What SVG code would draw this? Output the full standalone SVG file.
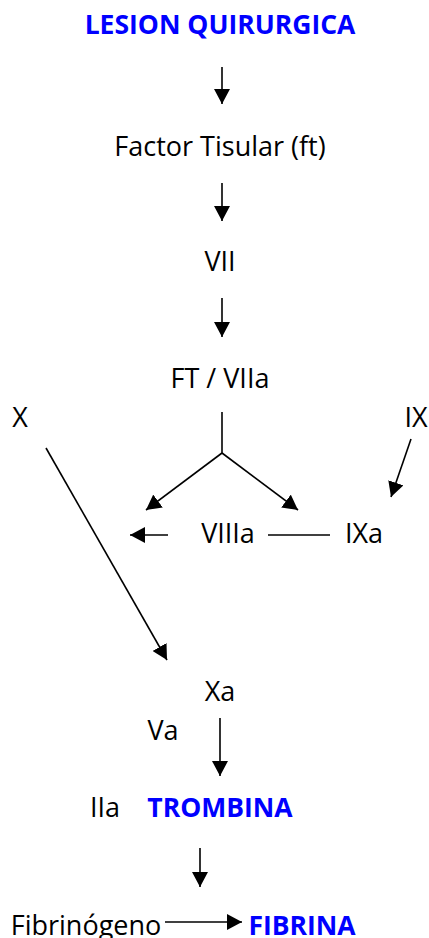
<svg xmlns="http://www.w3.org/2000/svg" width="429" height="938" viewBox="0 0 429 938">
  <style>
    text { font-family: "Open Sans", "Noto Sans", "Liberation Sans", sans-serif; font-size: 27px; fill: #000; text-anchor: middle; }
    .key { font-weight: bold; font-size: 26.5px; fill: #0000ff; }
    .conn line { stroke: #000; stroke-width: 1.6; fill: none; }
    .arrow { marker-end: url(#head); }
  </style>
  <defs>
    <marker id="head" markerUnits="userSpaceOnUse" markerWidth="15" markerHeight="16" viewBox="0 0 15 16" refX="15" refY="8" orient="auto">
      <path d="M0,0 L15,8 L0,16 Z" fill="#000"/>
    </marker>
  </defs>

  <rect width="429" height="938" fill="#fff"/>

  <!-- cascade steps -->
  <g id="lesion"><text class="key" x="220" y="34">LESION QUIRURGICA</text></g>
  <g id="factor-tisular"><text x="220" y="156">Factor Tisular (ft)</text></g>
  <g id="vii"><text x="220" y="271">VII</text></g>
  <g id="ft-viia"><text x="220" y="388">FT / VIIa</text></g>
  <g id="x"><text x="20" y="427">X</text></g>
  <g id="ix"><text x="416" y="427">IX</text></g>
  <g id="viiia"><text x="228" y="543">VIIIa</text></g>
  <g id="ixa"><text x="364" y="543">IXa</text></g>
  <g id="xa"><text x="220" y="701">Xa</text></g>
  <g id="va"><text x="163" y="740">Va</text></g>
  <g id="iia"><text x="105" y="817">IIa</text></g>
  <g id="trombina"><text class="key" x="220" y="817">TROMBINA</text></g>
  <g id="fibrinogeno"><text x="86" y="935">Fibrinógeno</text></g>
  <g id="fibrina"><text class="key" x="302" y="935">FIBRINA</text></g>

  <!-- connectors -->
  <g id="connectors" class="conn">
    <line class="arrow" x1="222" y1="67" x2="222" y2="104"/>
    <line class="arrow" x1="222" y1="183" x2="222" y2="221"/>
    <line class="arrow" x1="222" y1="298" x2="222" y2="337"/>
    <line x1="222" y1="412" x2="222" y2="453"/>
    <line class="arrow" x1="222" y1="453" x2="146" y2="510"/>
    <line class="arrow" x1="222" y1="453" x2="298" y2="510"/>
    <line class="arrow" x1="411" y1="439" x2="391" y2="497"/>
    <line class="arrow" x1="168" y1="535" x2="130" y2="535"/>
    <line x1="268" y1="535" x2="330" y2="535"/>
    <line class="arrow" x1="46" y1="448" x2="167" y2="660"/>
    <line class="arrow" x1="220" y1="718" x2="220" y2="776"/>
    <line class="arrow" x1="200" y1="848" x2="200" y2="887"/>
    <line class="arrow" x1="165" y1="922" x2="242" y2="922"/>
  </g>
</svg>
